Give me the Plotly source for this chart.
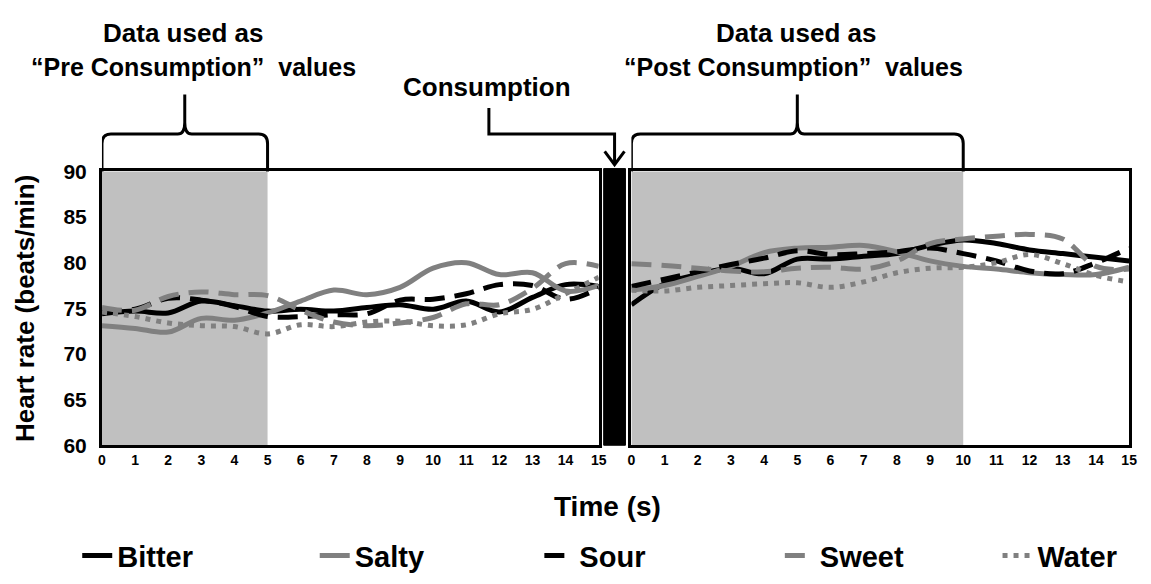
import plotly.graph_objects as go

W, H = 1151, 584

# ---------------- data ----------------
time_s = list(range(16))
series = ["Bitter", "Salty", "Sour", "Sweet", "Water"]

pre_bitter = [74.4, 74.7, 74.5, 75.8, 75.3, 74.7, 74.9, 74.7, 75.1, 75.4, 74.9, 75.8, 74.6, 76.2, 77.6, 77.4]
pre_salty  = [73.1, 72.8, 72.4, 73.9, 73.7, 74.5, 75.8, 77.0, 76.5, 77.3, 79.4, 80.0, 78.7, 78.9, 76.9, 77.5]
pre_sour   = [74.7, 74.9, 76.1, 75.9, 75.2, 74.1, 74.1, 74.3, 74.4, 75.9, 76.0, 76.6, 77.6, 77.5, 76.0, 77.2]
pre_sweet  = [75.1, 74.8, 76.3, 76.8, 76.5, 76.4, 74.8, 73.5, 73.1, 73.4, 74.0, 75.5, 75.4, 77.2, 79.9, 79.6]
pre_water  = [74.6, 74.1, 73.4, 73.1, 73.0, 72.2, 73.2, 73.0, 73.5, 73.6, 73.1, 73.2, 74.4, 74.9, 76.6, 78.4]

post_bitter = [75.4, 77.7, 78.7, 79.4, 78.8, 80.4, 80.4, 80.7, 81.0, 81.9, 82.5, 82.1, 81.4, 81.0, 80.6, 80.2]
post_salty  = [77.0, 77.5, 78.5, 79.6, 81.1, 81.6, 81.7, 81.9, 81.2, 80.2, 79.6, 79.3, 78.9, 78.7, 78.7, 79.5]
post_sour   = [77.4, 78.2, 79.0, 79.8, 80.5, 81.3, 80.9, 81.0, 81.2, 81.6, 81.0, 80.2, 79.1, 78.8, 80.0, 81.6]
post_sweet  = [79.9, 79.7, 79.4, 79.1, 79.0, 79.4, 79.5, 79.3, 80.2, 82.1, 82.6, 82.9, 83.1, 82.6, 79.6, 79.3]
post_water  = [77.0, 76.9, 77.3, 77.5, 77.7, 77.8, 77.3, 77.9, 78.9, 79.4, 79.5, 80.0, 80.9, 79.9, 78.6, 77.9]

y_ticks = [60, 65, 70, 75, 80, 85, 90]
x_ticks = list(range(16))

pre = [pre_bitter, pre_salty, pre_sour, pre_sweet, pre_water]
post = [post_bitter, post_salty, post_sour, post_sweet, post_water]

# ---------------- styles ----------------
BLACK, GRAY = "#000000", "#808080"
styles = {
    "Bitter": dict(color=BLACK, dash="solid", width=5),
    "Salty": dict(color=GRAY, dash="solid", width=5),
    "Sour": dict(color=BLACK, dash="20px,10px", width=5),
    "Sweet": dict(color=GRAY, dash="20px,10px", width=5),
    "Water": dict(color=GRAY, dash="5px,6px", width=5),
}
FONT = "Liberation Sans, Arial, sans-serif"
legend_ids = ["legend", "legend2", "legend3", "legend4", "legend5"]
legend_left_px = [74, 314, 541, 784, 1004]

def px(x):
    return x / W

def py(y):
    return 1 - y / H

fig = go.Figure()
for name, ypre, ypost, lid in zip(series, pre, post, legend_ids):
    st = styles[name]
    line = dict(color=st["color"], dash=st["dash"], width=st["width"], shape="spline", smoothing=1)
    fig.add_trace(go.Scatter(x=time_s, y=ypre, name=name, mode="lines", line=line,
                             legendgroup=name, legend=lid, showlegend=True, xaxis="x", yaxis="y"))
    fig.add_trace(go.Scatter(x=time_s, y=ypost, name=name, mode="lines", line=line,
                             legendgroup=name, legend=lid, showlegend=False, xaxis="x2", yaxis="y2"))

ydom = [py(451), py(166)]
axis_common = dict(showline=True, mirror=True, linewidth=3, linecolor="black",
                   showgrid=False, zeroline=False, ticks="")
fig.update_layout(
    width=W, height=H,
    margin=dict(l=0, r=0, t=0, b=0),
    paper_bgcolor="white", plot_bgcolor="white",
    font=dict(family=FONT, color="black"),
    xaxis=dict(domain=[px(99), px(601)], range=[0, 15], tickvals=x_ticks,
               tickfont=dict(size=14, weight="bold"), **axis_common),
    yaxis=dict(domain=ydom, range=[60, 90], tickvals=y_ticks,
               tickfont=dict(size=21, weight="bold"), ticklabelstandoff=8,
               title=dict(text="Heart rate (beats/min)", font=dict(size=26, weight="bold"), standoff=22),
               **axis_common),
    xaxis2=dict(domain=[px(634), px(1137)], range=[0, 15], tickvals=x_ticks,
                tickfont=dict(size=14, weight="bold"), anchor="y2", **axis_common),
    yaxis2=dict(domain=ydom, range=[60, 90], tickvals=y_ticks, showticklabels=False,
                anchor="x2", **axis_common),
    showlegend=True,
)
for lid, lx in zip(legend_ids, legend_left_px):
    fig.update_layout({lid: dict(orientation="h", x=px(lx), xanchor="left", y=py(566), yanchor="middle",
                                 font=dict(size=29, weight="bold", family=FONT),
                                 bgcolor="rgba(0,0,0,0)")})

# shaded data windows
fig.add_shape(type="rect", xref="x", yref="y domain", x0=0, x1=5, y0=0, y1=1,
              fillcolor="#c0c0c0", line=dict(width=0), layer="below")
fig.add_shape(type="rect", xref="x2", yref="y2 domain", x0=0, x1=10, y0=0, y1=1,
              fillcolor="#c0c0c0", line=dict(width=0), layer="below")

# consumption bar
fig.add_shape(type="rect", xref="paper", yref="paper", x0=px(606), x1=px(628),
              y0=py(451), y1=py(163), fillcolor="black", line=dict(color="black", width=1))

# brackets
def bracket(x0, x1, pxu, yb=166, yt=127, ypk=86):
    xm = (x0 + x1) / 2
    c = 9 / pxu
    cm = 7 / pxu
    return (f"M {x0},{py(yb)} L {x0},{py(yt + 10)} Q {x0},{py(yt)} {x0 + c},{py(yt)} "
            f"L {xm - cm},{py(yt)} Q {xm},{py(yt)} {xm},{py(yt - 12)} L {xm},{py(ypk)} "
            f"L {xm},{py(yt - 12)} Q {xm},{py(yt)} {xm + cm},{py(yt)} "
            f"L {x1 - c},{py(yt)} Q {x1},{py(yt)} {x1},{py(yt + 10)} L {x1},{py(yb)}")

fig.add_shape(type="path", xref="x", yref="paper", path=bracket(0, 5, 33.4),
              line=dict(color="black", width=3))
fig.add_shape(type="path", xref="x2", yref="paper", path=bracket(0, 10, 33.2),
              line=dict(color="black", width=3))

# consumption connector + arrow
fig.add_shape(type="path", xref="paper", yref="paper",
              path=f"M {px(490)},{py(100)} L {px(490)},{py(127)} L {px(617)},{py(127)} L {px(617)},{py(158)}",
              line=dict(color="black", width=3))
fig.add_shape(type="path", xref="paper", yref="paper",
              path=f"M {px(607)},{py(145)} L {px(617)},{py(159)} L {px(627)},{py(145)}",
              line=dict(color="black", width=3))

def label(text, x, y, size=26):
    fig.add_annotation(text=f"<b>{text}</b>", x=px(x), y=py(y), xref="paper", yref="paper",
                       showarrow=False, xanchor="center", yanchor="middle",
                       font=dict(size=size, family=FONT, color="black"))

label("Data used as", 181, 22)
label("\u201cPre Consumption\u201d  values", 191, 57, size=25)
label("Data used as", 800, 22)
label("\u201cPost Consumption\u201d  values", 798, 57, size=25)
label("Consumption", 488, 78)
label("Time (s)", 610, 515, size=28)

fig.write_html("out.html",
               post_script="document.body.style.margin='0px';document.body.style.overflow='hidden';")
